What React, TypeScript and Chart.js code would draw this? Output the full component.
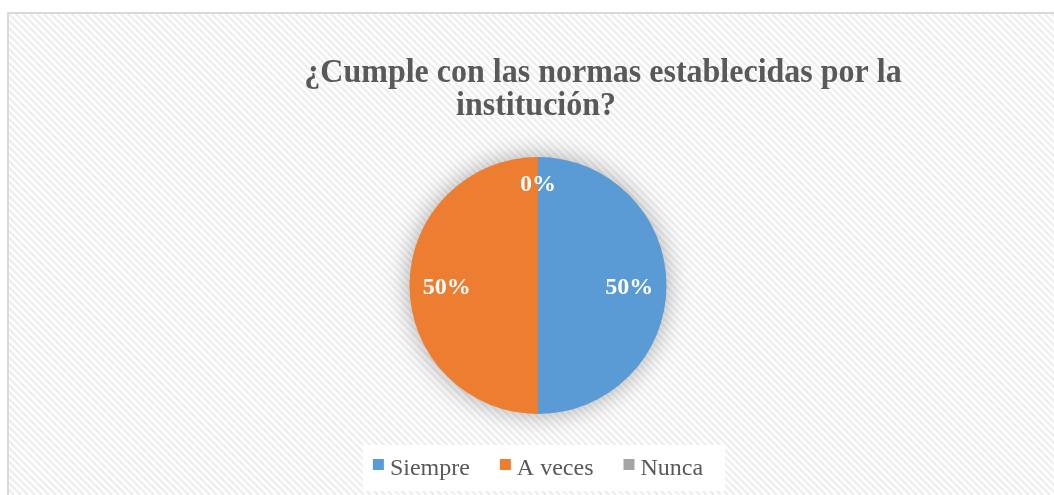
import React, { useEffect, useRef } from "react";
import { Chart, registerables } from "chart.js";

Chart.register(...registerables);

const titleLines = ["¿Cumple con las normas establecidas por la", "institución?"];
const categories = ["Siempre", "A veces", "Nunca"];
const values = [50, 50, 0];
const valueLabels = ["50%", "50%", "0%"];
const colors = ["#5B9BD5", "#ED7D31", "#A5A5A5"];

const SERIF = "'Liberation Serif', 'Times New Roman', serif";

const framePlugin = {
  id: "frame",
  beforeDraw(chart: any) {
    const ctx = chart.ctx;
    const W = chart.width;
    const H = chart.height;
    ctx.save();
    ctx.fillStyle = "#ffffff";
    ctx.fillRect(0, 0, W, H);
    // hatched background
    ctx.beginPath();
    ctx.rect(8, 13, W - 8, H - 13);
    ctx.clip();
    ctx.strokeStyle = "#efefef";
    ctx.lineWidth = 2.5;
    for (let k = -H; k < W + H; k += 7) {
      ctx.beginPath();
      ctx.moveTo(k, 0);
      ctx.lineTo(k + H, H);
      ctx.stroke();
    }
    ctx.restore();
    // border
    ctx.save();
    ctx.fillStyle = "#d9d9d9";
    ctx.fillRect(7, 12, 2, H - 12);
    ctx.fillRect(7, 12, W - 7, 2);
    ctx.restore();

    // title (slightly tall glyphs, as in the reference)
    ctx.save();
    ctx.fillStyle = "#595959";
    ctx.font = `bold 32px ${SERIF}`;
    ctx.textAlign = "center";
    ctx.textBaseline = "alphabetic";
    const sy = 1.06;
    ctx.save();
    ctx.translate(603, 82);
    ctx.scale(1, sy);
    ctx.fillText(titleLines[0], 0, 0);
    ctx.restore();
    ctx.save();
    ctx.translate(536, 115);
    ctx.scale(1, sy);
    ctx.fillText(titleLines[1], 0, 0);
    ctx.restore();
    ctx.restore();

    // legend
    ctx.save();
    ctx.font = `24px ${SERIF}`;
    const box = 11;
    const gapText = 6;
    const gapItem = 30;
    const widths = categories.map((c) => ctx.measureText(c).width);
    const total = widths.reduce((a, w) => a + box + gapText + w, 0) + gapItem * (categories.length - 1);
    let x = 538 - total / 2;
    const left = x - 10;
    const right = x + total + 22;
    ctx.fillStyle = "#ffffff";
    ctx.fillRect(left, 445, right - left, 46);
    ctx.textBaseline = "alphabetic";
    ctx.textAlign = "left";
    categories.forEach((c, i) => {
      ctx.fillStyle = colors[i];
      ctx.fillRect(x, 459, box, box);
      ctx.fillStyle = "#595959";
      ctx.fillText(c, x + box + gapText, 475);
      x += box + gapText + widths[i] + gapItem;
    });
    ctx.restore();
  },
  beforeDatasetsDraw(chart: any) {
    const meta = chart.getDatasetMeta(0);
    const arc = meta.data[0];
    if (!arc) return;
    const ctx = chart.ctx;
    ctx.save();
    ctx.shadowColor = "rgba(0,0,0,0.35)";
    ctx.shadowBlur = 26;
    ctx.fillStyle = "#ffffff";
    ctx.beginPath();
    ctx.arc(arc.x, arc.y, arc.outerRadius - 1, 0, Math.PI * 2);
    ctx.fill();
    ctx.restore();
  },
  afterDatasetsDraw(chart: any) {
    const meta = chart.getDatasetMeta(0);
    const ctx = chart.ctx;
    ctx.save();
    ctx.fillStyle = "#ffffff";
    ctx.font = `bold 24px ${SERIF}`;
    ctx.textAlign = "center";
    ctx.textBaseline = "middle";
    meta.data.forEach((el: any, i: number) => {
      const mid = (el.startAngle + el.endAngle) / 2;
      const f = values[i] === 0 ? 0.8 : 0.71;
      const r = el.outerRadius * f;
      ctx.fillText(valueLabels[i], el.x + Math.cos(mid) * r, el.y + Math.sin(mid) * r + 2);
    });
    ctx.restore();
  },
};

export default function App() {
  const ref = useRef<HTMLCanvasElement | null>(null);
  useEffect(() => {
    if (!ref.current) return;
    const chart = new Chart(ref.current, {
      type: "pie",
      data: {
        labels: categories,
        datasets: [
          {
            data: values,
            backgroundColor: colors,
            borderWidth: 0,
          },
        ],
      },
      options: {
        responsive: false,
        animation: false,
        devicePixelRatio: 1,
        layout: { padding: { left: 409.5, right: 387.5, top: 157, bottom: 81 } },
        plugins: {
          legend: { display: false },
          title: { display: false },
          tooltip: { enabled: false },
        },
      },
      plugins: [framePlugin],
    });
    return () => chart.destroy();
  }, []);
  return (
    <div style={{ position: "fixed", left: 0, top: 0, width: 1054, height: 495 }}>
      <canvas ref={ref} width={1054} height={495} style={{ display: "block" }} />
    </div>
  );
}
